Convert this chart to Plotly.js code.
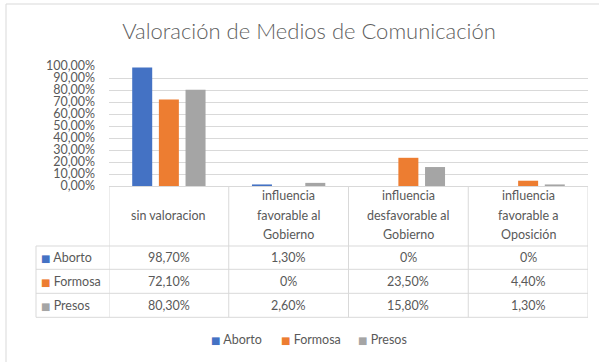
<!DOCTYPE html>
<html>
<head>
<meta charset="utf-8">
<script src="https://cdn.plot.ly/plotly-3.0.1.min.js"></script>
<style>html,body{margin:0;padding:0;background:#fff;}#chart{width:599px;height:362px;}</style>
</head>
<body>
<div id="chart"></div>
<script>
// ---- data ----
var categories = ['sin valoracion', 'influencia<br>favorable al<br>Gobierno', 'influencia<br>desfavorable al<br>Gobierno', 'influencia<br>favorable a<br>Oposición'];
var seriesNames = ['Aborto', 'Formosa', 'Presos'];
var aborto = [98.7, 1.3, 0, 0];
var formosa = [72.1, 0, 23.5, 4.4];
var presos = [80.3, 2.6, 15.8, 1.3];
var colors = ['#4472C4', '#ED7D31', '#A5A5A5'];
var seriesValues = [aborto, formosa, presos];

// ---- geometry helpers (pixels -> paper) ----
var W = 599, H = 362, L = 109, R = 11, T = 66, B = 176;
var PW = W - L - R, PH = H - T - B;
function px(x) { return (x - L) / PW; }
function py(y) { return (H - B - y) / PH; }

var FONT = 'Lato, "Open Sans", sans-serif';
var TXT = '#595959';
var GRID = '#d9d9d9';

function fmt(v) {
  if (v === 0) return '0%';
  return v.toFixed(2).replace('.', ',') + '%';
}

var traces = seriesNames.map(function (n, i) {
  return {
    type: 'bar', name: n, x: categories, y: seriesValues[i],
    marker: { color: colors[i] }, showlegend: false, hoverinfo: 'none'
  };
});

var shapes = [];
var annotations = [];

// chart frame
shapes.push({ type: 'rect', xref: 'paper', yref: 'paper', x0: px(6), x1: px(640), y0: py(4), y1: py(420), line: { color: GRID, width: 1 } });

// table geometry
var headTop = H - B, headBot = 246, rowLines = [246, 269.3, 293.3, 317.3], tableLeft = 36;
for (var k = 0; k <= categories.length; k++) {
  shapes.push({ type: 'line', xref: 'x', yref: 'paper', x0: k - 0.5, x1: k - 0.5, y0: 0, y1: py(rowLines[rowLines.length - 1]), line: { color: GRID, width: 1 } });
}
shapes.push({ type: 'line', xref: 'paper', yref: 'paper', x0: px(tableLeft), x1: px(tableLeft), y0: py(rowLines[0]), y1: py(rowLines[rowLines.length - 1]), line: { color: GRID, width: 1 } });
rowLines.forEach(function (yy) {
  shapes.push({ type: 'line', xref: 'paper', yref: 'paper', x0: px(tableLeft), x1: 1, y0: py(yy), y1: py(yy), line: { color: GRID, width: 1 } });
});

var cellFont = { family: FONT, size: 12.5, color: TXT };
var sq = function (c) { return '<span style="color:' + c + ';font-size:10px;font-family:DejaVu Sans">■</span>'; };
// header text (one annotation per line)
var headCenter = (headTop + headBot) / 2 - 1, lineGap = 19.2;
categories.forEach(function (c, ci) {
  var lines = c.split('<br>');
  lines.forEach(function (ln, li) {
    var yy = headCenter + (li - (lines.length - 1) / 2) * lineGap;
    annotations.push({ xref: 'x', yref: 'paper', x: ci, y: py(yy), text: ln, showarrow: false, xanchor: 'center', yanchor: 'middle', font: cellFont });
  });
});
// data rows
seriesNames.forEach(function (n, si) {
  var yc = (rowLines[si] + rowLines[si + 1]) / 2;
  annotations.push({ xref: 'paper', yref: 'paper', x: px(39), y: py(yc), xanchor: 'left', yanchor: 'middle', showarrow: false,
    text: sq(colors[si]) + ' ' + n, font: cellFont });
  seriesValues[si].forEach(function (v, ci) {
    annotations.push({ xref: 'x', yref: 'paper', x: ci, y: py(yc), text: fmt(v), showarrow: false, xanchor: 'center', yanchor: 'middle', font: cellFont });
  });
});
// bottom legend
var legendX = [209, 279, 356];
seriesNames.forEach(function (n, si) {
  annotations.push({ xref: 'paper', yref: 'paper', x: px(legendX[si]), y: py(339), xanchor: 'left', yanchor: 'middle', showarrow: false,
    text: sq(colors[si]) + ' ' + n, font: cellFont });
});

var layout = {
  width: W, height: H,
  margin: { l: L, r: R, t: T, b: B, pad: 0 },
  paper_bgcolor: '#fff', plot_bgcolor: '#fff',
  separators: ',.',
  title: { text: 'Valoración de Medios de Comunicación', font: { family: FONT, size: 22, color: '#5f5f5f', weight: 300 },
    x: 309 / W, xanchor: 'center', xref: 'container', y: 1 - 31 / H, yanchor: 'middle', yref: 'container' },
  barmode: 'group', bargap: 0.332, bargroupgap: 0.25,
  xaxis: { type: 'category', range: [-0.5, 3.5], showticklabels: false, showgrid: false, zeroline: false, showline: false, ticks: '' },
  yaxis: { range: [0, 100], dtick: 10, tick0: 0, tickformat: '.2f', ticksuffix: '%', showgrid: true, gridcolor: GRID, gridwidth: 1,
    zeroline: true, zerolinecolor: GRID, zerolinewidth: 1, showline: false, ticks: '', ticklabelstandoff: 13,
    tickfont: { family: FONT, size: 12.5, color: TXT }, fixedrange: true },
  shapes: shapes,
  annotations: annotations,
  showlegend: false
};

Plotly.newPlot('chart', traces, layout, { staticPlot: true, displayModeBar: false });
</script>
</body>
</html>
